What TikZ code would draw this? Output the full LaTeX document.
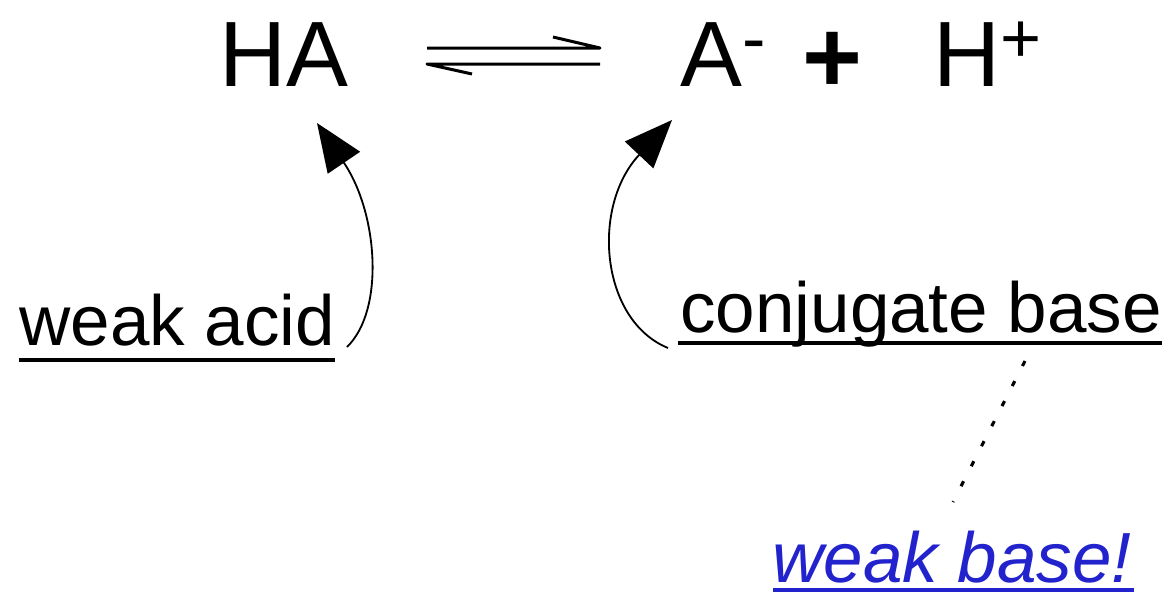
\documentclass[tikz,border=0pt]{standalone}
\usepackage{fontspec}
\setmainfont{Liberation Sans}
\usetikzlibrary{arrows.meta, positioning, calc}
\definecolor{linkblue}{RGB}{35,35,205}
\newcommand\chargeup[1]{\raisebox{0.58cm}{\fontsize{50}{50}\selectfont #1}}

\tikzset{
  eqtext/.style={anchor=base west, inner sep=0pt, font=\fontsize{66}{70}\selectfont},
  lbltext/.style={anchor=base west, inner sep=0pt, font=\fontsize{50.5}{60}\selectfont},
  uline/.style={line width=0.1cm},
  eqline/.style={line width=0.075cm, line join=round},
  curved/.style={line width=1.3pt, -{Triangle[length=1.2cm, width=0.97cm]}},
  hint/.style={line width=2.2pt, dash pattern=on 4pt off 12pt}
}

\begin{document}
\begin{tikzpicture}[x=0.025cm, y=-0.025cm]
    \useasboundingbox (0,0) rectangle (1166,595);

    \node[eqtext] (HA) at (219, 86) {HA};
    \node[eqtext] (A) at (680, 86) {A\chargeup{-}};
    \node[eqtext, font=\fontsize{73}{75}\selectfont\bfseries] (plus) at (802, 92) {+};
    \node[eqtext] (H) at (933, 86) {H\chargeup{+}};

    \coordinate (eqL) at (427, 56);
    \draw[eqline] (eqL) ++(0,-8) -- ++(173,0) -- ++(-47,-11);
    \draw[eqline] (eqL) ++(173,8) -- ++(-173,0) -- ++(45,10);

    \node[lbltext] (wa) at (19, 345) {weak acid};
    \node[lbltext] (cb) at (680, 332) {conjugate base};
    \node[lbltext, font=\fontsize{50.5}{60}\selectfont\itshape, text=linkblue] (wb) at (772, 582) {weak base!};

    \draw[uline] ($(wa.base west)+(0,15)$) -- ($(wa.base east)+(0,15)$);
    \draw[uline] ($(cb.base west)+(-2,11)$) -- ($(cb.base east)+(0,11)$);
    \draw[uline, linkblue] ($(wb.base west)+(1,8)$) -- ($(wb.base east)+(2,8)$);

    \coordinate (acidTail) at (347, 347);
    \coordinate (acidTip) at (317, 123);
    \coordinate (baseTail) at (668, 348);
    \coordinate (baseTip) at (672, 120);
    \draw[curved] (acidTail) .. controls (385, 310) and (378, 213) .. (acidTip);
    \draw[curved] (baseTail) .. controls (600, 320) and (591, 206) .. (baseTip);

    \coordinate (cbFoot) at (1025, 361);
    \coordinate (wbHead) at (953, 502);
    \draw[hint] (cbFoot) -- (wbHead);
\end{tikzpicture}
\end{document}
